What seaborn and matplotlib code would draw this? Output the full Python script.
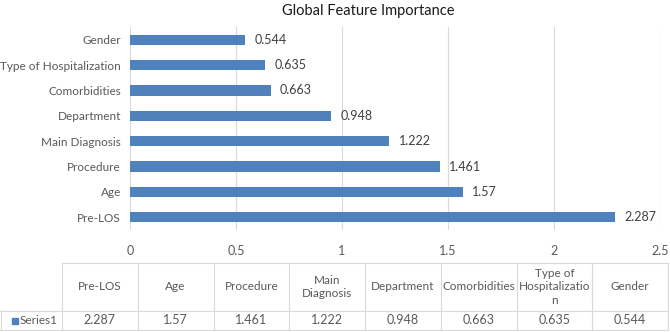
import pandas as pd
import matplotlib.pyplot as plt
import seaborn as sns
from matplotlib.lines import Line2D
from matplotlib.patches import Rectangle

# datos (orden de la tabla)
features = ['Pre-LOS', 'Age', 'Procedure', 'Main Diagnosis', 'Department',
            'Comorbidities', 'Type of Hospitalization', 'Gender']
importance = [2.287, 1.57, 1.461, 1.222, 0.948, 0.663, 0.635, 0.544]
value_labels = ['2.287', '1.57', '1.461', '1.222', '0.948', '0.663', '0.635', '0.544']
table_headers = ['Pre-LOS', 'Age', 'Procedure', 'Main\nDiagnosis', 'Department',
                 'Comorbidities', 'Type of\nHospitalizatio\nn', 'Gender']
series_name = 'Series1'

df = pd.DataFrame({'feature': features, 'importance': importance})

W, H = 670, 332
blue = '#4f81bd'
grid_c = '#d9d9d9'
txt_c = '#595959'

sns.set_style('white')
plt.rcParams['font.family'] = ['Lato', 'DejaVu Sans']

fig = plt.figure(figsize=(W / 100, H / 100), dpi=100)
ax = fig.add_axes([130 / W, 1 - 230 / H, (660 - 130) / W, (230 - 27) / H])

order = features[::-1]  # Gender arriba, Pre-LOS abajo
sns.barplot(data=df, x='importance', y='feature', order=order, color=blue,
            width=0.4, saturation=1, linewidth=0, ax=ax)

ax.set_xlim(0, 2.5)
ax.set_xticks([0, 0.5, 1, 1.5, 2, 2.5])
ax.set_xticklabels(['0', '0.5', '1', '1.5', '2', '2.5'])
ax.grid(axis='x', color=grid_c, linewidth=0.8)
ax.set_axisbelow(True)
for s in ax.spines.values():
    s.set_visible(False)
ax.tick_params(axis='both', length=0, colors=txt_c, labelsize=9)
ax.tick_params(axis='y', labelsize=8.5, pad=6.5)
ax.tick_params(axis='x', pad=11)
ax.set_xlabel('')
ax.set_ylabel('')

# etiquetas de valor
for i, f in enumerate(order):
    k = features.index(f)
    ax.text(importance[k] + 0.045, i, value_labels[k], va='center', ha='left',
            fontsize=9, color='#404040')

fig.text(368 / W, 1 - 11 / H, 'Global Feature Importance', ha='center', va='center',
         fontsize=10.5, color='#1a1a1a')

# tabla de datos
def fx(px):
    return px / W

def fy(py):
    return 1 - py / H

cols = [62 + i * 75.75 for i in range(9)]
top, mid, bot = 263, 311, 330
lines = [([cols[0], 668], [top, top]), ([0, 668], [mid, mid]), ([0, 668], [bot, bot]),
         ([0.5, 0.5], [mid, bot])]
for c in cols:
    lines.append(([c, c], [top, bot]))
for xs, ys in lines:
    fig.add_artist(Line2D([fx(x) for x in xs], [fy(y) for y in ys], color=grid_c, linewidth=0.8))

for i, (h, v) in enumerate(zip(table_headers, value_labels)):
    cx = (cols[i] + cols[i + 1]) / 2
    fig.text(fx(cx), fy((top + mid) / 2), h, ha='center', va='center', fontsize=8.5,
             color=txt_c, linespacing=1.3)
    fig.text(fx(cx), fy((mid + bot) / 2), v, ha='center', va='center', fontsize=9, color=txt_c)

fig.add_artist(Rectangle((fx(12), fy(324)), 6 / W, 6 / H, color=blue, transform=fig.transFigure))
fig.text(fx(20), fy((mid + bot) / 2), series_name, ha='left', va='center', fontsize=8.5, color=txt_c)

plt.savefig('out.png', dpi=100)
